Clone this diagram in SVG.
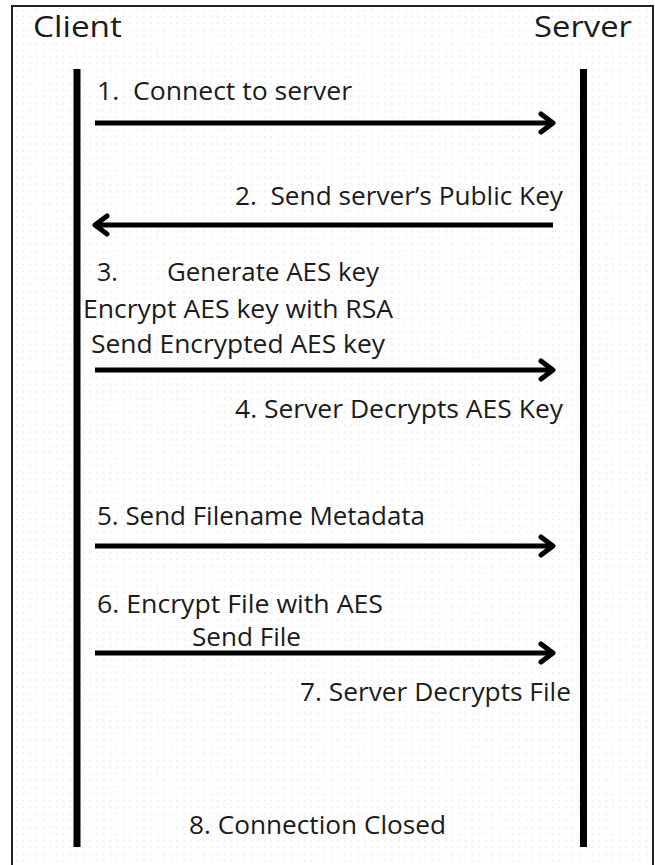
<svg xmlns="http://www.w3.org/2000/svg" width="655" height="865" viewBox="0 0 655 865">
  <style>
    .lbl { font-family: "Open Sans", "Noto Sans", "Liberation Sans", sans-serif; font-size: 25px; fill: #1b1b1b; }
    .head { font-family: "Open Sans", "Noto Sans", "Liberation Sans", sans-serif; font-size: 30px; fill: #1b1b1b; }
    .life { stroke: #000; stroke-width: 7; }
    .msg { stroke: #000; stroke-width: 5; fill: none; }
  </style>
  <defs>
    <pattern id="dots" width="6.7" height="6.7" patternUnits="userSpaceOnUse">
      <rect x="2.5" y="2.5" width="1.6" height="1.6" fill="#e6e6e6"/>
    </pattern>
    <marker id="arrow" viewBox="0 0 20 24" refX="17" refY="12" markerWidth="20" markerHeight="24" markerUnits="userSpaceOnUse" orient="auto">
      <path d="M5 3 L17 12 L5 21" fill="none" stroke="#000" stroke-width="5" stroke-linecap="round" stroke-linejoin="round"/>
    </marker>
  </defs>

  <!-- page background with dot grid and frame -->
  <rect width="655" height="865" fill="#fff"/>
  <rect x="12" y="6" width="641" height="870" fill="url(#dots)" stroke="#222" stroke-width="2"/>

  <!-- participants -->
  <g id="client">
    <text class="head" x="33" y="37" textLength="89" lengthAdjust="spacingAndGlyphs">Client</text>
    <line class="life" x1="77" y1="69" x2="77" y2="847"/>
  </g>
  <g id="server">
    <text class="head" x="632" y="37" text-anchor="end" textLength="98" lengthAdjust="spacingAndGlyphs">Server</text>
    <line class="life" x1="583.5" y1="69" x2="583.5" y2="847"/>
  </g>

  <!-- messages -->
  <g id="connectors">
    <line class="msg" x1="95" y1="123" x2="553" y2="123" marker-end="url(#arrow)"/>
    <line class="msg" x1="553" y1="225" x2="95" y2="225" marker-end="url(#arrow)"/>
    <line class="msg" x1="95" y1="370" x2="553" y2="370" marker-end="url(#arrow)"/>
    <line class="msg" x1="95" y1="546" x2="553" y2="546" marker-end="url(#arrow)"/>
    <line class="msg" x1="95" y1="653" x2="553" y2="653" marker-end="url(#arrow)"/>
  </g>

  <!-- step labels -->
  <g id="step1">
    <text class="lbl" x="97" y="100" textLength="255" lengthAdjust="spacingAndGlyphs" xml:space="preserve">1.  Connect to server</text>
  </g>
  <g id="step2">
    <text class="lbl" x="235" y="205" textLength="328" lengthAdjust="spacingAndGlyphs" xml:space="preserve">2.  Send server’s Public Key</text>
  </g>
  <g id="step3">
    <text class="lbl" x="97" y="281">3.</text>
    <text class="lbl" x="167" y="281" textLength="212" lengthAdjust="spacingAndGlyphs">Generate AES key</text>
    <text class="lbl" x="83" y="318" textLength="310" lengthAdjust="spacingAndGlyphs">Encrypt AES key with RSA</text>
    <text class="lbl" x="91" y="353" textLength="294" lengthAdjust="spacingAndGlyphs">Send Encrypted AES key</text>
  </g>
  <g id="step4">
    <text class="lbl" x="235" y="418" textLength="328" lengthAdjust="spacingAndGlyphs">4. Server Decrypts AES Key</text>
  </g>
  <g id="step5">
    <text class="lbl" x="97" y="525" textLength="328" lengthAdjust="spacingAndGlyphs">5. Send Filename Metadata</text>
  </g>
  <g id="step6">
    <text class="lbl" x="97" y="613" textLength="286" lengthAdjust="spacingAndGlyphs">6. Encrypt File with AES</text>
    <text class="lbl" x="192" y="646" textLength="109" lengthAdjust="spacingAndGlyphs">Send File</text>
  </g>
  <g id="step7">
    <text class="lbl" x="300" y="701" textLength="271" lengthAdjust="spacingAndGlyphs">7. Server Decrypts File</text>
  </g>
  <g id="step8">
    <text class="lbl" x="189" y="834" textLength="257" lengthAdjust="spacingAndGlyphs">8. Connection Closed</text>
  </g>
</svg>
